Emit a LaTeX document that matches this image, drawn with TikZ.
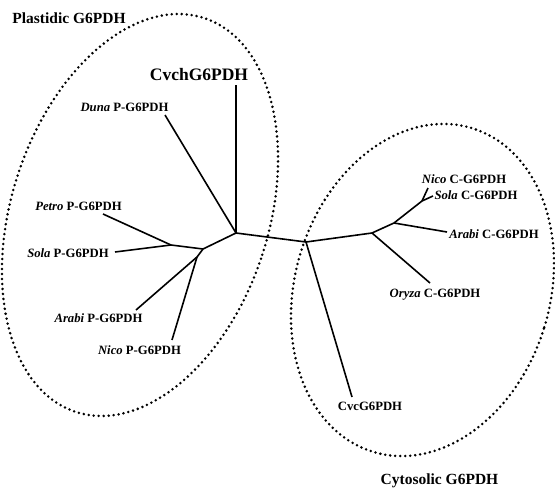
\documentclass[tikz,border=0pt]{standalone}
\usepackage{fontspec}
\setmainfont{Liberation Serif}
\begin{document}
\begin{tikzpicture}[x=1pt,y=-1pt,
  branch/.style={line width=1.6pt},
  clade/.style={line width=2.8pt, dash pattern=on 0pt off 5pt, line cap=round},
  leaf/.style={anchor=base, inner sep=0pt, font=\bfseries\fontsize{12.7}{14}\selectfont},
  title/.style={anchor=base, inner sep=0pt, font=\bfseries\fontsize{15.5}{17}\selectfont},
  big/.style={anchor=base, inner sep=0pt, font=\bfseries\fontsize{17.5}{19}\selectfont}]
\useasboundingbox (0,0) rectangle (555,488);
% clade ellipses
\coordinate (cl) at (140,215);
\coordinate (cr) at (422.5,290);
\draw[clade, rotate around={-18:(cl)}] (cl) ellipse [x radius=128.6pt, y radius=207.1pt];
\draw[clade, rotate around={-17:(cr)}] (cr) ellipse [x radius=127.4pt, y radius=169.2pt];
% tree coordinates
\coordinate (hub) at (236,233);
\coordinate (cvchEnd) at (236,85);
\coordinate (dunaEnd) at (165,115);
\coordinate (nA) at (203,249);
\coordinate (nB) at (171,245);
\coordinate (petroEnd) at (103,214);
\coordinate (solaPEnd) at (115,252);
\coordinate (nC) at (197,257);
\coordinate (arabiPEnd) at (136,310);
\coordinate (nicoPEnd) at (172,340);
\coordinate (nM) at (306,242);
\coordinate (cvcEnd) at (352,397);
\coordinate (nR) at (372,233);
\coordinate (nS) at (394,223);
\coordinate (oryzaEnd) at (430,283);
\coordinate (arabiCEnd) at (447,232);
\coordinate (nT) at (422,201);
\coordinate (nicoCEnd) at (428,188);
\coordinate (solaCEnd) at (433,196);
% branches
\draw[branch] (hub) -- (cvchEnd);
\draw[branch] (hub) -- (dunaEnd);
\draw[branch] (hub) -- (nA);
\draw[branch] (nA) -- (nB);
\draw[branch] (nB) -- (petroEnd);
\draw[branch] (nB) -- (solaPEnd);
\draw[branch] (nA) -- (nC);
\draw[branch] (nC) -- (arabiPEnd);
\draw[branch] (nC) -- (nicoPEnd);
\draw[branch] (hub) -- (nM);
\draw[branch] (nM) -- (cvcEnd);
\draw[branch] (nM) -- (nR);
\draw[branch] (nR) -- (oryzaEnd);
\draw[branch] (nR) -- (nS);
\draw[branch] (nS) -- (arabiCEnd);
\draw[branch] (nS) -- (nT);
\draw[branch] (nT) -- (nicoCEnd);
\draw[branch] (nT) -- (solaCEnd);
% labels
\node[title] (tP) at (69,23) {Plastidic G6PDH};
\node[title] (tC) at (439.5,484.5) {Cytosolic G6PDH};
\node[big] (lCvch) at (199,80) {CvchG6PDH};
\node[leaf] (lDuna) at (124.5,111.5) {\textit{Duna} P-G6PDH};
\node[leaf] (lPetro) at (78.5,210.5) {\textit{Petro} P-G6PDH};
\node[leaf] (lSolaP) at (68,257.5) {\textit{Sola} P-G6PDH};
\node[leaf] (lArabiP) at (98.5,322.5) {\textit{Arabi} P-G6PDH};
\node[leaf] (lNicoP) at (139.5,354.5) {\textit{Nico} P-G6PDH};
\node[leaf] (lNicoC) at (464,183.5) {\textit{Nico} C-G6PDH};
\node[leaf] (lSolaC) at (476,199.5) {\textit{Sola} C-G6PDH};
\node[leaf] (lArabiC) at (494,238.5) {\textit{Arabi} C-G6PDH};
\node[leaf] (lOryza) at (435,297.5) {\textit{Oryza} C-G6PDH};
\node[leaf] (lCvc) at (370,410.5) {CvcG6PDH};
\end{tikzpicture}
\end{document}
